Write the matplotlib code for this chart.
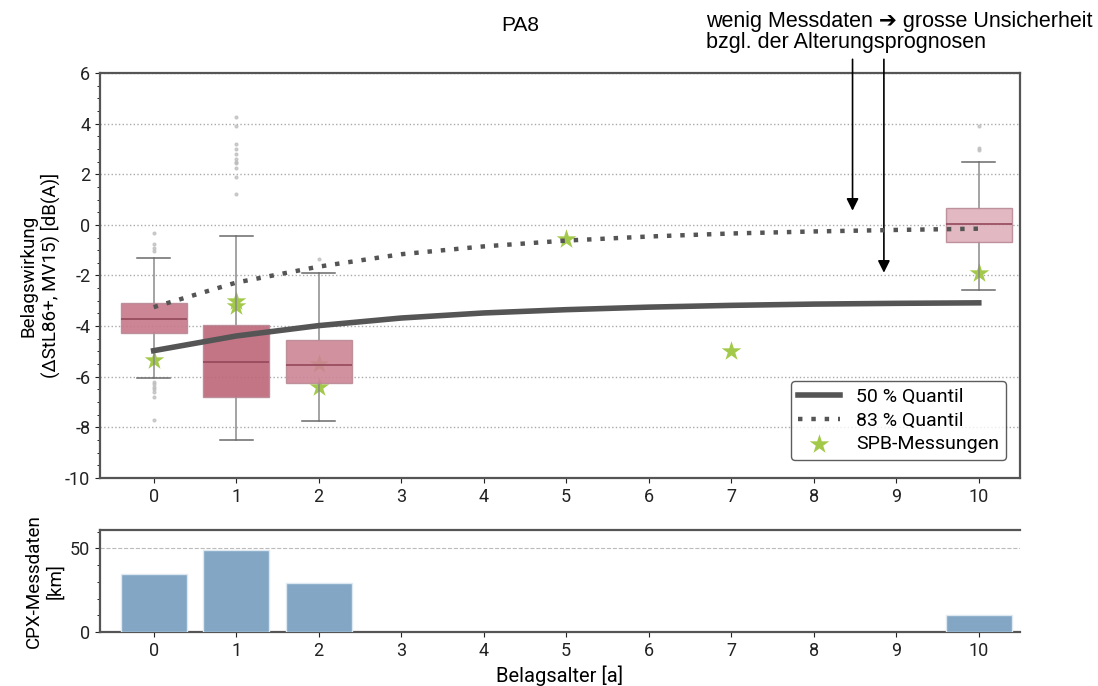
import numpy as np
import matplotlib.pyplot as plt
from matplotlib.ticker import MultipleLocator

plt.rcParams['font.family'] = ['Roboto', 'DejaVu Sans']
plt.rcParams['axes.unicode_minus'] = False

# data
ages = [0, 1, 2, 10]
box_q1 = [-4.28, -6.8, -6.26, -0.68]
box_med = [-3.73, -5.4, -5.55, 0.03]
box_q3 = [-3.1, -3.95, -4.55, 0.68]
box_wlo = [-6.06, -8.5, -7.73, -2.58]
box_whi = [-1.29, -0.43, -1.91, 2.48]
box_fliers = [
    [-0.33, -0.75, -0.9, -1.03, -6.19, -6.3, -6.4, -6.5, -6.59, -6.81, -7.71],
    [4.28, 3.92, 3.2, 2.98, 2.79, 2.6, 2.5, 2.43, 2.24, 1.88, 1.21],
    [-1.33],
    [3.9, 3.05, 2.96],
]
box_colors = ['#c7788a', '#bd6679', '#cd8595', '#dfb1bc']

quant_x = [0, 1, 2, 3, 4, 5, 6, 7, 8, 9, 10]
q50 = [-4.97, -4.39, -3.98, -3.68, -3.48, -3.35, -3.25, -3.18, -3.13, -3.1, -3.08]
q83 = [-3.25, -2.28, -1.65, -1.16, -0.85, -0.62, -0.46, -0.34, -0.26, -0.2, -0.15]

spb_x = [0, 1, 1, 2, 2, 5, 7, 10]
spb_y = [-5.35, -3.0, -3.2, -5.5, -6.4, -0.55, -5.0, -1.9]

cpx_x = [0, 1, 2, 10]
cpx_km = [34.8, 48.8, 29.1, 10.2]

fig = plt.figure(figsize=(10.98, 6.86), dpi=100)
ax = fig.add_axes([0.0911, 0.3032, 0.8379, 0.5904])
ax2 = fig.add_axes([0.0911, 0.0787, 0.8379, 0.1487])

# SPB points (drawn under the boxes)
ax.scatter(spb_x, spb_y, marker='*', s=220, color='#a3c94a', zorder=2,
           label='SPB-Messungen', linewidths=0)

stats = []
for i in range(len(ages)):
    stats.append(dict(q1=box_q1[i], med=box_med[i], q3=box_q3[i],
                      whislo=box_wlo[i], whishi=box_whi[i], fliers=box_fliers[i]))
bp = ax.bxp(stats, positions=ages, widths=0.8, patch_artist=True, manage_ticks=False,
            whiskerprops=dict(color='#8a8a8a', lw=1.1),
            capprops=dict(color='#6a6a6a', lw=1.1),
            medianprops=dict(color='#94485a', lw=1.2),
            flierprops=dict(marker='o', markersize=2, markerfacecolor='#bbbbbb',
                            markeredgecolor='#bbbbbb', alpha=0.7))
for patch, c in zip(bp['boxes'], box_colors):
    patch.set_facecolor(c)
    patch.set_alpha(0.9)
    patch.set_edgecolor('#b98a95')
    patch.set_zorder(3)
for m in bp['medians']:
    m.set_zorder(4)

ax.plot(quant_x, q50, color='#555555', lw=4, zorder=5, label='50 % Quantil')
ax.plot(quant_x, q83, color='#555555', lw=3.2, ls=(0, (1, 2)), zorder=5, label='83 % Quantil')

ax.set_xlim(-0.65, 10.5)
ax.set_ylim(-10, 6)
ax.set_xticks(range(11))
ax.set_yticks(range(-10, 7, 2))
ax.yaxis.set_minor_locator(MultipleLocator(0.5))
ax.grid(axis='y', which='major', ls=':', color='#aaaaaa', lw=1)
ax.set_axisbelow(True)
ax.tick_params(labelsize=13, colors='#222222')
ax.set_ylabel('Belagswirkung\n(ΔStL86+, MV15) [dB(A)]', fontsize=13.5)
for s in ax.spines.values():
    s.set_color('#555555')
    s.set_linewidth(1.6)

handles, labels = ax.get_legend_handles_labels()
order = [labels.index('50 % Quantil'), labels.index('83 % Quantil'), labels.index('SPB-Messungen')]
leg = ax.legend([handles[i] for i in order], [labels[i] for i in order], loc='lower right',
                fontsize=14, frameon=True, edgecolor='#333333', fancybox=True,
                bbox_to_anchor=(0.995, 0.02), borderpad=0.35, labelspacing=0.3,
                handlelength=2.2)
leg.get_frame().set_linewidth(1)

# annotation
fig.text(0.474, 0.963, 'PA8', fontsize=15, family='Liberation Sans', ha='center', va='center')
fig.text(0.643, 0.953, 'wenig Messdaten \u2794 grosse Unsicherheit\nbzgl. der Alterungsprognosen',
         fontsize=15.5, family=['Liberation Sans', 'DejaVu Sans'], ha='left', va='center',
         linespacing=0.97)
ax.annotate('', xy=(8.47, 0.45), xytext=(8.47, 6.65), annotation_clip=False,
            arrowprops=dict(arrowstyle='-|>', color='black', lw=1.2, mutation_scale=18))
ax.annotate('', xy=(8.85, -2.0), xytext=(8.85, 6.65), annotation_clip=False,
            arrowprops=dict(arrowstyle='-|>', color='black', lw=1.2, mutation_scale=18))

# CPX bars
ax2.bar(cpx_x, cpx_km, width=0.8, color='#82a6c4', edgecolor='#dde8f0', lw=1, zorder=3)
ax2.set_xlim(-0.65, 10.5)
ax2.set_ylim(0, 61)
ax2.set_xticks(range(11))
ax2.set_yticks([0, 50])
ax2.yaxis.set_minor_locator(MultipleLocator(10))
ax2.grid(axis='y', which='major', ls='--', color='#bbbbbb', lw=0.8)
ax2.set_axisbelow(True)
ax2.tick_params(labelsize=13, colors='#222222')
ax2.set_ylabel('CPX-Messdaten\n[km]', fontsize=13.5)
ax2.set_xlabel('Belagsalter [a]', fontsize=14.5)
ax2.spines['right'].set_visible(False)
for s in ['left', 'top', 'bottom']:
    ax2.spines[s].set_color('#555555')
    ax2.spines[s].set_linewidth(1.6)

fig.savefig('out.png', dpi=100)
